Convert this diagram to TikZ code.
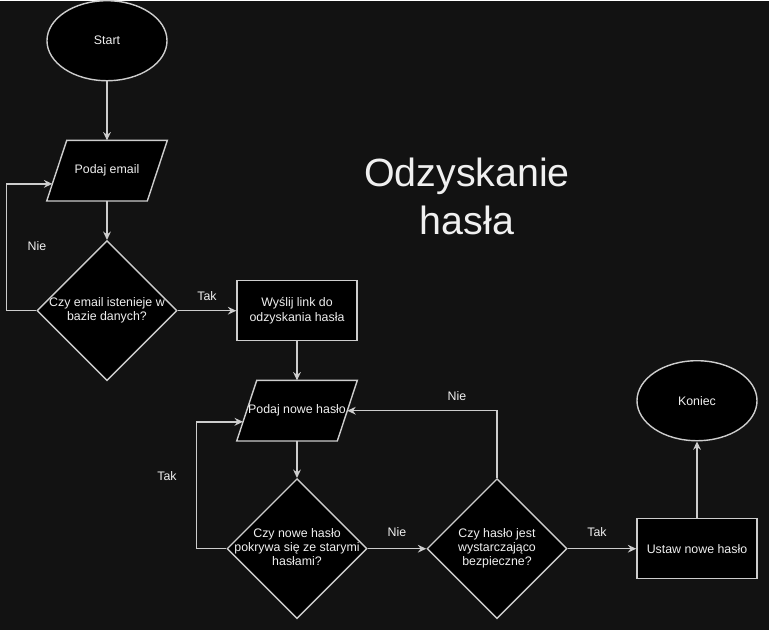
\documentclass[tikz,border=0pt]{standalone}
\usepackage{fontspec}
\setmainfont{Liberation Sans}
\usetikzlibrary{shapes.geometric,arrows.meta,calc,backgrounds}
\definecolor{bgdark}{RGB}{18,18,18}
\definecolor{edgegray}{RGB}{205,205,205}
\definecolor{txtwhite}{RGB}{240,240,240}
\newcommand{\ztext}[1]{\makebox[0pt]{\begin{tabular}{@{}c@{}}#1\end{tabular}}}

\begin{document}
\begin{tikzpicture}[x=0.025cm,y=-0.025cm,
    box/.style={draw=edgegray,fill=black,text=txtwhite,line width=1pt,inner sep=0pt,font=\fontsize{8.8}{10}\selectfont},
    term/.style={box,ellipse,minimum width=3cm,minimum height=2cm},
    io/.style={rectangle,text=txtwhite,inner sep=0pt,minimum width=2.5cm,minimum height=1.5cm,font=\fontsize{8.8}{10}\selectfont},
    ioshape/.style={draw=edgegray,fill=black,line width=1pt},
    proc/.style={box,rectangle,minimum width=3cm,minimum height=1.5cm,align=center},
    dec/.style={box,diamond,minimum width=3.5cm,minimum height=3.5cm},
    lbl/.style={text=txtwhite,font=\fontsize{8.8}{10}\selectfont,inner sep=0pt},
    arr/.style={draw=edgegray,line width=1pt,-{Stealth[length=6pt,width=5.5pt,inset=2pt]}}]
    \node[term] (start) at (107,40) {Start};
    \node[io] (email) at (107,170) {\ztext{Podaj email}};
    \node[dec] (exists) at (107,310) {\ztext{Czy email istenieje w\\bazie danych?}};
    \node[proc] (link) at (297,310) {Wyślij link do\\odzyskania hasła};
    \node[io] (newpw) at (297,410) {\ztext{Podaj nowe hasło}};
    \node[dec] (old) at (297,548) {\ztext{Czy nowe hasło\\pokrywa się ze starymi\\hasłami?}};
    \node[dec] (safe) at (497,548) {\ztext{Czy hasło jest\\wystarczająco\\bezpieczne?}};
    \node[proc] (set) at (697,548) {Ustaw nowe hasło};
    \node[term] (end) at (697,400) {Koniec};
    \node[font=\fontsize{28}{34}\selectfont,text=txtwhite,align=center] (title) at (467,196) {Odzyskanie\\hasła};
    \node[lbl] (nie1) at (37,245) {Nie};
    \node[lbl] (tak1) at (207,295) {Tak};
    \node[lbl] (tak2) at (167,475) {Tak};
    \node[lbl] (nie2) at (397,531) {Nie};
    \node[lbl] (nie3) at (457,395) {Nie};
    \node[lbl] (tak3) at (597,531) {Tak};
    \begin{scope}[on background layer]
      \fill[bgdark] (0,0) rectangle (769,629);
      \foreach \n in {email,newpw}
        \draw[ioshape] ($(\n.north west)+(10,0)$) -- ($(\n.north east)+(10,0)$)
          -- ($(\n.south east)+(-10,0)$) -- ($(\n.south west)+(-10,0)$) -- cycle;
    \end{scope}
    \coordinate (emailin) at ($($(email.north west)+(10,0)$)!0.717!($(email.south west)+(-10,0)$)$);
    \coordinate (newpwin) at ($($(newpw.north west)+(10,0)$)!0.683!($(newpw.south west)+(-10,0)$)$);
    \draw[arr] (start) -- (email);
    \draw[arr] (email) -- (exists);
    \draw[arr] (exists.west) -- ++(-30,0) |- (emailin);
    \draw[arr] (exists) -- (link);
    \draw[arr] (link) -- (newpw);
    \draw[arr] (newpw) -- (old);
    \draw[arr] (old.west) -- ++(-30,0) |- (newpwin);
    \draw[arr] (old) -- (safe);
    \draw[arr] (safe.north) |- (newpw.east);
    \draw[arr] (safe) -- (set);
    \draw[arr] (set) -- (end);
\end{tikzpicture}
\end{document}
